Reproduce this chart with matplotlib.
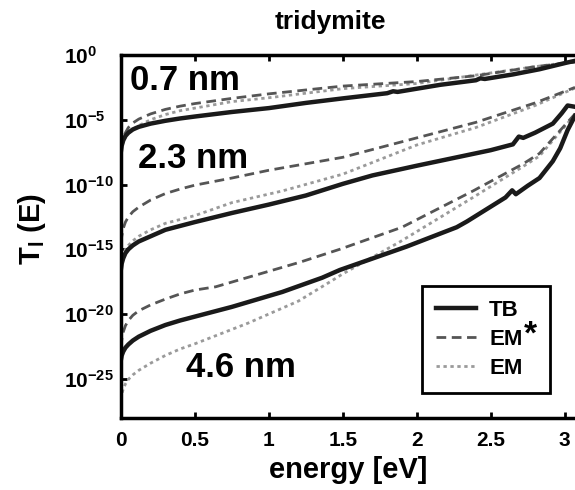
import numpy as np
import matplotlib
matplotlib.use('Agg')
import matplotlib.pyplot as plt

plt.rcParams['font.family'] = ['Liberation Sans', 'DejaVu Sans']
plt.rcParams['font.weight'] = 'bold'
plt.rcParams['mathtext.fontset'] = 'custom'
plt.rcParams['mathtext.rm'] = 'Liberation Sans:bold'
plt.rcParams['mathtext.bf'] = 'Liberation Sans:bold'
plt.rcParams['mathtext.it'] = 'Liberation Sans:bold'

# ---- data (log10 of transmission) ----
e_start = [0, 0.005, 0.015, 0.03, 0.05, 0.08, 0.12, 0.2, 0.3, 0.4, 0.5]

# 0.7 nm
e_07_tb = e_start + [0.75, 1.0, 1.25, 1.5, 1.8, 1.84, 1.87, 2.16, 2.4, 2.43, 2.46, 2.65, 2.83, 3.01, 3.07]
t_07_tb = [-7.4, -7.0, -6.6, -6.25, -6.0, -5.75, -5.55, -5.3, -5.08, -4.9, -4.75,
           -4.4, -4.1, -3.7, -3.35, -2.95, -2.8, -2.85, -2.3, -1.95, -1.8, -1.85, -1.5, -1.1, -0.6, -0.45]
e_07_ems = e_start + [0.75, 1.0, 1.5, 2.0, 2.4, 2.8, 3.07]
t_07_ems = [-7.3, -6.9, -6.4, -6.0, -5.6, -5.25, -4.95, -4.55, -4.2, -3.95, -3.75,
            -3.35, -3.0, -2.4, -2.05, -1.6, -0.9, -0.55]
e_07_em = e_start + [0.75, 1.0, 1.5, 2.0, 2.4, 2.8, 3.07]
t_07_em = [-7.5, -7.1, -6.7, -6.35, -6.05, -5.75, -5.45, -5.0, -4.6, -4.3, -4.1,
           -3.6, -3.3, -2.6, -2.2, -1.55, -0.9, -0.5]

# 2.3 nm
e_23_tb = e_start + [0.75, 1.0, 1.25, 1.5, 1.7, 2.0, 2.25, 2.5, 2.65, 2.69, 2.72, 2.8, 2.92, 2.98, 3.02, 3.07]
t_23_tb = [-16.5, -16.1, -15.7, -15.3, -15.0, -14.7, -14.4, -14.0, -13.5, -13.2, -12.9,
           -12.2, -11.55, -10.85, -9.95, -9.3, -8.55, -7.95, -7.35, -6.9, -6.3, -6.4, -6.0, -5.3, -4.5, -3.9, -4.0]
e_23_ems = e_start + [0.75, 1.0, 1.5, 2.0, 2.4, 2.8, 3.07]
t_23_ems = [-14.5, -14.0, -13.4, -12.9, -12.5, -12.1, -11.75, -11.2, -10.7, -10.35, -10.05,
            -9.5, -8.9, -7.9, -6.4, -5.2, -3.7, -2.5]
e_23_em = e_start + [0.75, 1.09, 1.5, 2.0, 2.4, 2.8, 3.07]
t_23_em = [-16.2, -15.8, -15.4, -15.0, -14.7, -14.35, -14.0, -13.5, -13.0, -12.7, -12.4,
           -11.4, -10.5, -9.2, -6.95, -5.6, -3.9, -2.55]

# 4.6 nm
e_46_tb = e_start + [0.75, 1.09, 1.36, 1.48, 1.93, 2.27, 2.34, 2.6, 2.645, 2.67, 2.75, 2.83, 2.92, 2.97, 3.02, 3.07]
t_46_tb = [-23.5, -23.2, -22.9, -22.6, -22.35, -22.05, -21.75, -21.3, -20.85, -20.5, -20.2,
           -19.45, -18.3, -17.2, -16.6, -14.8, -13.3, -12.85, -11.0, -10.45, -10.75, -10.1, -9.5, -8.2, -7.2, -5.8, -4.7]
e_46_ems = e_start + [0.64, 1.21, 1.48, 1.9, 2.38, 2.72, 2.83, 3.07]
t_46_ems = [-22.6, -22.0, -21.4, -20.9, -20.5, -20.1, -19.75, -19.3, -18.85, -18.45, -18.15,
            -17.9, -16.0, -15.0, -13.3, -10.5, -8.4, -7.6, -4.55]
e_46_em = e_start + [0.86, 1.2, 1.43, 1.5, 1.89, 2.38, 2.72, 2.83, 3.07]
t_46_em = [-26.6, -26.2, -25.8, -25.4, -25.05, -24.7, -24.35, -23.8, -23.2, -22.7, -22.3,
           -20.7, -19.0, -17.4, -16.9, -14.4, -11.0, -8.6, -7.8, -4.6]

labels = ['0.7 nm', '2.3 nm', '4.6 nm']
label_pos = [(0.43, 1e-2), (0.49, 1e-8), (0.81, 10**-24.1)]

c_tb = '#1a1a1a'
c_ems = '#555555'
c_em = '#9a9a9a'

fig = plt.figure(figsize=(5.75, 4.9), dpi=100)
ax = fig.add_axes([121/575, 1 - 417.6/490, 1 - 121/575, (417.6 - 55)/490])

groups = [
    (e_07_tb, t_07_tb, e_07_ems, t_07_ems, e_07_em, t_07_em),
    (e_23_tb, t_23_tb, e_23_ems, t_23_ems, e_23_em, t_23_em),
    (e_46_tb, t_46_tb, e_46_ems, t_46_ems, e_46_em, t_46_em),
]
for i, (e1, t1, e2, t2, e3, t3) in enumerate(groups):
    ax.plot(e3, 10**np.array(t3), color=c_em, lw=2.0, ls=(0, (1.2, 1.3)),
            label='EM' if i == 0 else None)
    ax.plot(e2, 10**np.array(t2), color=c_ems, lw=2.0, ls=(0, (3.5, 2.0)),
            label='EM' if i == 0 else None)
    ax.plot(e1, 10**np.array(t1), color=c_tb, lw=3.2, solid_joinstyle='round',
            label='TB' if i == 0 else None)

for txt, (x, y) in zip(labels, label_pos):
    ax.text(x, y, txt, fontsize=25, fontweight='bold', ha='center', va='center')

ax.set_yscale('log')
ax.set_xlim(0, 3.07)
ax.set_ylim(1e-28, 1e0)
ax.set_yticks([1e0, 1e-5, 1e-10, 1e-15, 1e-20, 1e-25])
ax.yaxis.set_minor_locator(matplotlib.ticker.NullLocator())
ax.set_xticks([0, 0.5, 1, 1.5, 2, 2.5, 3])
ax.set_xticklabels(['0', '0.5', '1', '1.5', '2', '2.5', '3'])
ax.tick_params(direction='in', length=4, width=2, labelsize=15, top=True)
ax.tick_params(axis='x', pad=10)
ax.tick_params(axis='y', pad=41)
for lab in ax.get_xticklabels() + ax.get_yticklabels():
    lab.set_fontweight('bold')
for lab in ax.get_yticklabels():
    lab.set_horizontalalignment('left')
for s in ['left', 'bottom', 'top']:
    ax.spines[s].set_linewidth(2.5)
ax.spines['right'].set_visible(False)

ax.set_xlabel('energy [eV]', fontsize=21, fontweight='bold', labelpad=4)
ax.set_ylabel('T$_{\\mathbf{l}}$ (E)', fontsize=21, fontweight='bold')
ax.yaxis.set_label_coords(-0.16, 0.52)
fig.text(330/575, 1 - 22/490, 'tridymite', fontsize=19, fontweight='bold',
         ha='center', va='center')

handles, labs = ax.get_legend_handles_labels()
order = [2, 1, 0]
leg = ax.legend([handles[k] for k in order], [labs[k] for k in order],
                loc='lower left', bbox_to_anchor=(0.663, 0.068, 0.282, 0.29),
                mode='expand', borderaxespad=0,
                fancybox=False, edgecolor='black', framealpha=1,
                prop={'weight': 'bold', 'size': 16}, handlelength=1.8,
                labelspacing=0.36, borderpad=0.62, handletextpad=0.6)
leg.get_frame().set_linewidth(2)

# big asterisk after the EM* label
fig.canvas.draw()
bb_star = leg.get_texts()[1].get_window_extent()
fig.text(bb_star.x1 + 1, (bb_star.y0 + bb_star.y1) / 2 - 4, '*', fontsize=24,
         fontweight='bold', ha='left', va='baseline', transform=None)

fig.savefig('out.png', dpi=100)
